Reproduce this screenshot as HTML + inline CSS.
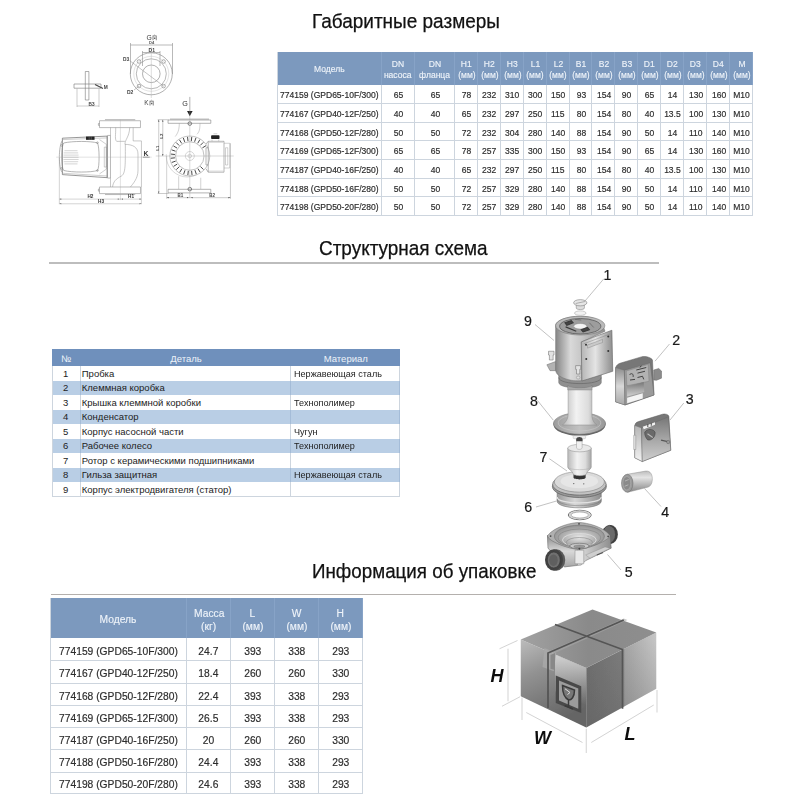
<!DOCTYPE html>
<html lang="ru"><head><meta charset="utf-8"><title>Spec</title><style>
html,body{margin:0;padding:0;background:#fff;}
body{width:800px;height:800px;overflow:hidden;position:relative;font-family:"Liberation Sans",sans-serif;color:#222;}
.abs{position:absolute;}
.ttl{position:absolute;font-size:19.7px;color:#111;white-space:nowrap;transform-origin:left top;transform:scaleX(.955);line-height:24px;-webkit-text-stroke:0.25px #111;}
.rule{position:absolute;background:#bdbdbd;}
.c{position:absolute;box-sizing:border-box;display:flex;align-items:center;justify-content:center;white-space:nowrap;overflow:visible;}
.c span{display:inline-block;}
.t1 .c{font-size:9.7px;padding-top:0px;-webkit-text-stroke:0.2px #333;color:#2a2a2a;}
.t1 .h{background:#7c99be;color:#eef3f9;flex-direction:column;line-height:11.6px;font-size:9.7px;padding-top:2px;-webkit-text-stroke:0.15px #eef3f9;background:none;}
.t1 .h small{font-size:9.7px;display:block;}
.t1 .l{justify-content:flex-start;padding-left:3px;}
.t3 .c{font-size:11.7px;color:#2a2a2a;-webkit-text-stroke:0.2px #333;padding-top:1px;}
.t3 .h{background:#7c99be;color:#eef3f9;flex-direction:column;line-height:13.5px;padding-top:2.5px;font-size:11.7px;-webkit-text-stroke:0.15px #eef3f9;background:none;}
.t3 .h small{font-size:11.7px;display:block;}
.t3 .l{justify-content:flex-start;padding-left:9px;}
.t2 .c{font-size:9.5px;color:#222;border-right:1px solid #cdd5de;}
.t2 .h{background:none;color:#eef3f9;border-right:none;padding-top:1.5px;}
.t2 .alt{border-right-color:#a4bcd8;}
.t2 .m span{transform:scaleX(.955);transform-origin:left center;}
.t2 .l{justify-content:flex-start;padding-left:1.2px;}
.t2 .m{padding-left:2.6px !important;}

.sx{transform:scaleX(.88);}
.sxl{transform:scaleX(.88);transform-origin:left center;}
</style></head><body>
<div class="ttl" style="left:312px;top:9px;transform:scaleX(.964)">Габаритные размеры</div>
<div class="ttl" style="left:319px;top:236px;transform:scaleX(.962)">Структурная схема</div>
<div class="ttl" style="left:312px;top:559px;transform:scaleX(.954)">Информация об упаковке</div>
<div class="rule" style="left:49px;top:262px;width:610px;height:2px;"></div>
<div class="rule" style="left:51px;top:593.5px;width:625px;height:1.5px;background:#b4b0ad;"></div>
<div class="t1">
<div class="abs" style="left:276.8px;top:51.6px;width:476.49999999999994px;height:33.4px;background:#7c99be;"></div>
<div class="abs" style="left:276.8px;top:51.6px;width:1px;height:164.4px;background:#cdd5de;"></div>
<div class="c h" style="left:276.8px;top:51.6px;width:104.70px;height:33.40px;"><span class="sx">Модель</span></div>
<div class="c h" style="left:381.5px;top:51.6px;width:33.30px;height:33.40px;"><span class="sx">DN</span><span class="sx" >насоса</span></div>
<div class="c h" style="left:414.8px;top:51.6px;width:40.20px;height:33.40px;"><span class="sx">DN</span><span class="sx" >фланца</span></div>
<div class="c h" style="left:455px;top:51.6px;width:23.00px;height:33.40px;"><span class="sx">H1</span><small class="sx">(мм)</small></div>
<div class="c h" style="left:478px;top:51.6px;width:23.00px;height:33.40px;"><span class="sx">H2</span><small class="sx">(мм)</small></div>
<div class="c h" style="left:501px;top:51.6px;width:22.80px;height:33.40px;"><span class="sx">H3</span><small class="sx">(мм)</small></div>
<div class="c h" style="left:523.8px;top:51.6px;width:22.70px;height:33.40px;"><span class="sx">L1</span><small class="sx">(мм)</small></div>
<div class="c h" style="left:546.5px;top:51.6px;width:23.00px;height:33.40px;"><span class="sx">L2</span><small class="sx">(мм)</small></div>
<div class="c h" style="left:569.5px;top:51.6px;width:22.80px;height:33.40px;"><span class="sx">B1</span><small class="sx">(мм)</small></div>
<div class="c h" style="left:592.3px;top:51.6px;width:22.70px;height:33.40px;"><span class="sx">B2</span><small class="sx">(мм)</small></div>
<div class="c h" style="left:615px;top:51.6px;width:23.30px;height:33.40px;"><span class="sx">B3</span><small class="sx">(мм)</small></div>
<div class="c h" style="left:638.3px;top:51.6px;width:22.70px;height:33.40px;"><span class="sx">D1</span><small class="sx">(мм)</small></div>
<div class="c h" style="left:661px;top:51.6px;width:23.20px;height:33.40px;"><span class="sx">D2</span><small class="sx">(мм)</small></div>
<div class="c h" style="left:684.2px;top:51.6px;width:22.90px;height:33.40px;"><span class="sx">D3</span><small class="sx">(мм)</small></div>
<div class="c h" style="left:707.1px;top:51.6px;width:23.10px;height:33.40px;"><span class="sx">D4</span><small class="sx">(мм)</small></div>
<div class="c h" style="left:730.2px;top:51.6px;width:23.10px;height:33.40px;"><span class="sx">M</span><small class="sx">(мм)</small></div>
<div class="c l" style="left:276.8px;top:85px;width:104.70px;height:19px;"><span class="sxl">774159 (GPD65-10F/300)</span></div>
<div class="c" style="left:381.5px;top:85px;width:33.30px;height:19px;"><span class="sx">65</span></div>
<div class="c" style="left:414.8px;top:85px;width:40.20px;height:19px;"><span class="sx">65</span></div>
<div class="c" style="left:455px;top:85px;width:23.00px;height:19px;"><span class="sx">78</span></div>
<div class="c" style="left:478px;top:85px;width:23.00px;height:19px;"><span class="sx">232</span></div>
<div class="c" style="left:501px;top:85px;width:22.80px;height:19px;"><span class="sx">310</span></div>
<div class="c" style="left:523.8px;top:85px;width:22.70px;height:19px;"><span class="sx">300</span></div>
<div class="c" style="left:546.5px;top:85px;width:23.00px;height:19px;"><span class="sx">150</span></div>
<div class="c" style="left:569.5px;top:85px;width:22.80px;height:19px;"><span class="sx">93</span></div>
<div class="c" style="left:592.3px;top:85px;width:22.70px;height:19px;"><span class="sx">154</span></div>
<div class="c" style="left:615px;top:85px;width:23.30px;height:19px;"><span class="sx">90</span></div>
<div class="c" style="left:638.3px;top:85px;width:22.70px;height:19px;"><span class="sx">65</span></div>
<div class="c" style="left:661px;top:85px;width:23.20px;height:19px;"><span class="sx">14</span></div>
<div class="c" style="left:684.2px;top:85px;width:22.90px;height:19px;"><span class="sx">130</span></div>
<div class="c" style="left:707.1px;top:85px;width:23.10px;height:19px;"><span class="sx">160</span></div>
<div class="c" style="left:730.2px;top:85px;width:23.10px;height:19px;"><span class="sx">M10</span></div>
<div class="c l" style="left:276.8px;top:104px;width:104.70px;height:19px;"><span class="sxl">774167 (GPD40-12F/250)</span></div>
<div class="c" style="left:381.5px;top:104px;width:33.30px;height:19px;"><span class="sx">40</span></div>
<div class="c" style="left:414.8px;top:104px;width:40.20px;height:19px;"><span class="sx">40</span></div>
<div class="c" style="left:455px;top:104px;width:23.00px;height:19px;"><span class="sx">65</span></div>
<div class="c" style="left:478px;top:104px;width:23.00px;height:19px;"><span class="sx">232</span></div>
<div class="c" style="left:501px;top:104px;width:22.80px;height:19px;"><span class="sx">297</span></div>
<div class="c" style="left:523.8px;top:104px;width:22.70px;height:19px;"><span class="sx">250</span></div>
<div class="c" style="left:546.5px;top:104px;width:23.00px;height:19px;"><span class="sx">115</span></div>
<div class="c" style="left:569.5px;top:104px;width:22.80px;height:19px;"><span class="sx">80</span></div>
<div class="c" style="left:592.3px;top:104px;width:22.70px;height:19px;"><span class="sx">154</span></div>
<div class="c" style="left:615px;top:104px;width:23.30px;height:19px;"><span class="sx">80</span></div>
<div class="c" style="left:638.3px;top:104px;width:22.70px;height:19px;"><span class="sx">40</span></div>
<div class="c" style="left:661px;top:104px;width:23.20px;height:19px;"><span class="sx">13.5</span></div>
<div class="c" style="left:684.2px;top:104px;width:22.90px;height:19px;"><span class="sx">100</span></div>
<div class="c" style="left:707.1px;top:104px;width:23.10px;height:19px;"><span class="sx">130</span></div>
<div class="c" style="left:730.2px;top:104px;width:23.10px;height:19px;"><span class="sx">M10</span></div>
<div class="c l" style="left:276.8px;top:123px;width:104.70px;height:18px;"><span class="sxl">774168 (GPD50-12F/280)</span></div>
<div class="c" style="left:381.5px;top:123px;width:33.30px;height:18px;"><span class="sx">50</span></div>
<div class="c" style="left:414.8px;top:123px;width:40.20px;height:18px;"><span class="sx">50</span></div>
<div class="c" style="left:455px;top:123px;width:23.00px;height:18px;"><span class="sx">72</span></div>
<div class="c" style="left:478px;top:123px;width:23.00px;height:18px;"><span class="sx">232</span></div>
<div class="c" style="left:501px;top:123px;width:22.80px;height:18px;"><span class="sx">304</span></div>
<div class="c" style="left:523.8px;top:123px;width:22.70px;height:18px;"><span class="sx">280</span></div>
<div class="c" style="left:546.5px;top:123px;width:23.00px;height:18px;"><span class="sx">140</span></div>
<div class="c" style="left:569.5px;top:123px;width:22.80px;height:18px;"><span class="sx">88</span></div>
<div class="c" style="left:592.3px;top:123px;width:22.70px;height:18px;"><span class="sx">154</span></div>
<div class="c" style="left:615px;top:123px;width:23.30px;height:18px;"><span class="sx">90</span></div>
<div class="c" style="left:638.3px;top:123px;width:22.70px;height:18px;"><span class="sx">50</span></div>
<div class="c" style="left:661px;top:123px;width:23.20px;height:18px;"><span class="sx">14</span></div>
<div class="c" style="left:684.2px;top:123px;width:22.90px;height:18px;"><span class="sx">110</span></div>
<div class="c" style="left:707.1px;top:123px;width:23.10px;height:18px;"><span class="sx">140</span></div>
<div class="c" style="left:730.2px;top:123px;width:23.10px;height:18px;"><span class="sx">M10</span></div>
<div class="c l" style="left:276.8px;top:141px;width:104.70px;height:19px;"><span class="sxl">774169 (GPD65-12F/300)</span></div>
<div class="c" style="left:381.5px;top:141px;width:33.30px;height:19px;"><span class="sx">65</span></div>
<div class="c" style="left:414.8px;top:141px;width:40.20px;height:19px;"><span class="sx">65</span></div>
<div class="c" style="left:455px;top:141px;width:23.00px;height:19px;"><span class="sx">78</span></div>
<div class="c" style="left:478px;top:141px;width:23.00px;height:19px;"><span class="sx">257</span></div>
<div class="c" style="left:501px;top:141px;width:22.80px;height:19px;"><span class="sx">335</span></div>
<div class="c" style="left:523.8px;top:141px;width:22.70px;height:19px;"><span class="sx">300</span></div>
<div class="c" style="left:546.5px;top:141px;width:23.00px;height:19px;"><span class="sx">150</span></div>
<div class="c" style="left:569.5px;top:141px;width:22.80px;height:19px;"><span class="sx">93</span></div>
<div class="c" style="left:592.3px;top:141px;width:22.70px;height:19px;"><span class="sx">154</span></div>
<div class="c" style="left:615px;top:141px;width:23.30px;height:19px;"><span class="sx">90</span></div>
<div class="c" style="left:638.3px;top:141px;width:22.70px;height:19px;"><span class="sx">65</span></div>
<div class="c" style="left:661px;top:141px;width:23.20px;height:19px;"><span class="sx">14</span></div>
<div class="c" style="left:684.2px;top:141px;width:22.90px;height:19px;"><span class="sx">130</span></div>
<div class="c" style="left:707.1px;top:141px;width:23.10px;height:19px;"><span class="sx">160</span></div>
<div class="c" style="left:730.2px;top:141px;width:23.10px;height:19px;"><span class="sx">M10</span></div>
<div class="c l" style="left:276.8px;top:160px;width:104.70px;height:19px;"><span class="sxl">774187 (GPD40-16F/250)</span></div>
<div class="c" style="left:381.5px;top:160px;width:33.30px;height:19px;"><span class="sx">40</span></div>
<div class="c" style="left:414.8px;top:160px;width:40.20px;height:19px;"><span class="sx">40</span></div>
<div class="c" style="left:455px;top:160px;width:23.00px;height:19px;"><span class="sx">65</span></div>
<div class="c" style="left:478px;top:160px;width:23.00px;height:19px;"><span class="sx">232</span></div>
<div class="c" style="left:501px;top:160px;width:22.80px;height:19px;"><span class="sx">297</span></div>
<div class="c" style="left:523.8px;top:160px;width:22.70px;height:19px;"><span class="sx">250</span></div>
<div class="c" style="left:546.5px;top:160px;width:23.00px;height:19px;"><span class="sx">115</span></div>
<div class="c" style="left:569.5px;top:160px;width:22.80px;height:19px;"><span class="sx">80</span></div>
<div class="c" style="left:592.3px;top:160px;width:22.70px;height:19px;"><span class="sx">154</span></div>
<div class="c" style="left:615px;top:160px;width:23.30px;height:19px;"><span class="sx">80</span></div>
<div class="c" style="left:638.3px;top:160px;width:22.70px;height:19px;"><span class="sx">40</span></div>
<div class="c" style="left:661px;top:160px;width:23.20px;height:19px;"><span class="sx">13.5</span></div>
<div class="c" style="left:684.2px;top:160px;width:22.90px;height:19px;"><span class="sx">100</span></div>
<div class="c" style="left:707.1px;top:160px;width:23.10px;height:19px;"><span class="sx">130</span></div>
<div class="c" style="left:730.2px;top:160px;width:23.10px;height:19px;"><span class="sx">M10</span></div>
<div class="c l" style="left:276.8px;top:179px;width:104.70px;height:18px;"><span class="sxl">774188 (GPD50-16F/280)</span></div>
<div class="c" style="left:381.5px;top:179px;width:33.30px;height:18px;"><span class="sx">50</span></div>
<div class="c" style="left:414.8px;top:179px;width:40.20px;height:18px;"><span class="sx">50</span></div>
<div class="c" style="left:455px;top:179px;width:23.00px;height:18px;"><span class="sx">72</span></div>
<div class="c" style="left:478px;top:179px;width:23.00px;height:18px;"><span class="sx">257</span></div>
<div class="c" style="left:501px;top:179px;width:22.80px;height:18px;"><span class="sx">329</span></div>
<div class="c" style="left:523.8px;top:179px;width:22.70px;height:18px;"><span class="sx">280</span></div>
<div class="c" style="left:546.5px;top:179px;width:23.00px;height:18px;"><span class="sx">140</span></div>
<div class="c" style="left:569.5px;top:179px;width:22.80px;height:18px;"><span class="sx">88</span></div>
<div class="c" style="left:592.3px;top:179px;width:22.70px;height:18px;"><span class="sx">154</span></div>
<div class="c" style="left:615px;top:179px;width:23.30px;height:18px;"><span class="sx">90</span></div>
<div class="c" style="left:638.3px;top:179px;width:22.70px;height:18px;"><span class="sx">50</span></div>
<div class="c" style="left:661px;top:179px;width:23.20px;height:18px;"><span class="sx">14</span></div>
<div class="c" style="left:684.2px;top:179px;width:22.90px;height:18px;"><span class="sx">110</span></div>
<div class="c" style="left:707.1px;top:179px;width:23.10px;height:18px;"><span class="sx">140</span></div>
<div class="c" style="left:730.2px;top:179px;width:23.10px;height:18px;"><span class="sx">M10</span></div>
<div class="c l" style="left:276.8px;top:197px;width:104.70px;height:19px;"><span class="sxl">774198 (GPD50-20F/280)</span></div>
<div class="c" style="left:381.5px;top:197px;width:33.30px;height:19px;"><span class="sx">50</span></div>
<div class="c" style="left:414.8px;top:197px;width:40.20px;height:19px;"><span class="sx">50</span></div>
<div class="c" style="left:455px;top:197px;width:23.00px;height:19px;"><span class="sx">72</span></div>
<div class="c" style="left:478px;top:197px;width:23.00px;height:19px;"><span class="sx">257</span></div>
<div class="c" style="left:501px;top:197px;width:22.80px;height:19px;"><span class="sx">329</span></div>
<div class="c" style="left:523.8px;top:197px;width:22.70px;height:19px;"><span class="sx">280</span></div>
<div class="c" style="left:546.5px;top:197px;width:23.00px;height:19px;"><span class="sx">140</span></div>
<div class="c" style="left:569.5px;top:197px;width:22.80px;height:19px;"><span class="sx">88</span></div>
<div class="c" style="left:592.3px;top:197px;width:22.70px;height:19px;"><span class="sx">154</span></div>
<div class="c" style="left:615px;top:197px;width:23.30px;height:19px;"><span class="sx">90</span></div>
<div class="c" style="left:638.3px;top:197px;width:22.70px;height:19px;"><span class="sx">50</span></div>
<div class="c" style="left:661px;top:197px;width:23.20px;height:19px;"><span class="sx">14</span></div>
<div class="c" style="left:684.2px;top:197px;width:22.90px;height:19px;"><span class="sx">110</span></div>
<div class="c" style="left:707.1px;top:197px;width:23.10px;height:19px;"><span class="sx">140</span></div>
<div class="c" style="left:730.2px;top:197px;width:23.10px;height:19px;"><span class="sx">M10</span></div>
<div class="abs" style="left:380.50px;top:51.6px;width:1px;height:33.4px;background:#87a3c7;"></div>
<div class="abs" style="left:380.50px;top:85px;width:1px;height:131px;background:#cdd5de;"></div>
<div class="abs" style="left:413.80px;top:51.6px;width:1px;height:33.4px;background:#87a3c7;"></div>
<div class="abs" style="left:413.80px;top:85px;width:1px;height:131px;background:#cdd5de;"></div>
<div class="abs" style="left:454.00px;top:51.6px;width:1px;height:33.4px;background:#87a3c7;"></div>
<div class="abs" style="left:454.00px;top:85px;width:1px;height:131px;background:#cdd5de;"></div>
<div class="abs" style="left:477.00px;top:51.6px;width:1px;height:33.4px;background:#87a3c7;"></div>
<div class="abs" style="left:477.00px;top:85px;width:1px;height:131px;background:#cdd5de;"></div>
<div class="abs" style="left:500.00px;top:51.6px;width:1px;height:33.4px;background:#87a3c7;"></div>
<div class="abs" style="left:500.00px;top:85px;width:1px;height:131px;background:#cdd5de;"></div>
<div class="abs" style="left:522.80px;top:51.6px;width:1px;height:33.4px;background:#87a3c7;"></div>
<div class="abs" style="left:522.80px;top:85px;width:1px;height:131px;background:#cdd5de;"></div>
<div class="abs" style="left:545.50px;top:51.6px;width:1px;height:33.4px;background:#87a3c7;"></div>
<div class="abs" style="left:545.50px;top:85px;width:1px;height:131px;background:#cdd5de;"></div>
<div class="abs" style="left:568.50px;top:51.6px;width:1px;height:33.4px;background:#87a3c7;"></div>
<div class="abs" style="left:568.50px;top:85px;width:1px;height:131px;background:#cdd5de;"></div>
<div class="abs" style="left:591.30px;top:51.6px;width:1px;height:33.4px;background:#87a3c7;"></div>
<div class="abs" style="left:591.30px;top:85px;width:1px;height:131px;background:#cdd5de;"></div>
<div class="abs" style="left:614.00px;top:51.6px;width:1px;height:33.4px;background:#87a3c7;"></div>
<div class="abs" style="left:614.00px;top:85px;width:1px;height:131px;background:#cdd5de;"></div>
<div class="abs" style="left:637.30px;top:51.6px;width:1px;height:33.4px;background:#87a3c7;"></div>
<div class="abs" style="left:637.30px;top:85px;width:1px;height:131px;background:#cdd5de;"></div>
<div class="abs" style="left:660.00px;top:51.6px;width:1px;height:33.4px;background:#87a3c7;"></div>
<div class="abs" style="left:660.00px;top:85px;width:1px;height:131px;background:#cdd5de;"></div>
<div class="abs" style="left:683.20px;top:51.6px;width:1px;height:33.4px;background:#87a3c7;"></div>
<div class="abs" style="left:683.20px;top:85px;width:1px;height:131px;background:#cdd5de;"></div>
<div class="abs" style="left:706.10px;top:51.6px;width:1px;height:33.4px;background:#87a3c7;"></div>
<div class="abs" style="left:706.10px;top:85px;width:1px;height:131px;background:#cdd5de;"></div>
<div class="abs" style="left:729.20px;top:51.6px;width:1px;height:33.4px;background:#87a3c7;"></div>
<div class="abs" style="left:729.20px;top:85px;width:1px;height:131px;background:#cdd5de;"></div>
<div class="abs" style="left:752.30px;top:51.6px;width:1px;height:33.4px;background:#87a3c7;"></div>
<div class="abs" style="left:752.30px;top:85px;width:1px;height:131px;background:#cdd5de;"></div>
<div class="abs" style="left:276.8px;top:103px;width:476.50px;height:1px;background:#cdd5de;"></div>
<div class="abs" style="left:276.8px;top:122px;width:476.50px;height:1px;background:#cdd5de;"></div>
<div class="abs" style="left:276.8px;top:140px;width:476.50px;height:1px;background:#cdd5de;"></div>
<div class="abs" style="left:276.8px;top:159px;width:476.50px;height:1px;background:#cdd5de;"></div>
<div class="abs" style="left:276.8px;top:178px;width:476.50px;height:1px;background:#cdd5de;"></div>
<div class="abs" style="left:276.8px;top:196px;width:476.50px;height:1px;background:#cdd5de;"></div>
<div class="abs" style="left:276.8px;top:215px;width:476.50px;height:1px;background:#cdd5de;"></div>
</div>
<div class="t2">
<div class="abs" style="left:51.6px;top:349.2px;width:348.60px;height:16.80px;background:#6f90bc;"></div>
<div class="abs" style="left:51.6px;top:380.50px;width:348.60px;height:14.50px;background:#b9cee5;"></div>
<div class="abs" style="left:51.6px;top:409.50px;width:348.60px;height:14.50px;background:#b9cee5;"></div>
<div class="abs" style="left:51.6px;top:438.50px;width:348.60px;height:14.50px;background:#b9cee5;"></div>
<div class="abs" style="left:51.6px;top:467.50px;width:348.60px;height:14.50px;background:#b9cee5;"></div>
<div class="c h" style="left:51.6px;top:349.2px;width:29.00px;height:16.80px;"><span>№</span></div>
<div class="c h" style="left:80.6px;top:349.2px;width:210.80px;height:16.80px;"><span>Деталь</span></div>
<div class="c h" style="left:291.4px;top:349.2px;width:108.80px;height:16.80px;"><span>Материал</span></div>
<div class="c" style="left:51.6px;top:366.00px;width:29.00px;height:14.50px;"><span>1</span></div>
<div class="c l" style="left:80.6px;top:366.00px;width:210.80px;height:14.50px;"><span>Пробка</span></div>
<div class="c l m" style="left:291.4px;top:366.00px;width:108.80px;height:14.50px;"><span>Нержавеющая сталь</span></div>
<div class="c alt" style="left:51.6px;top:380.50px;width:29.00px;height:14.50px;"><span>2</span></div>
<div class="c l alt" style="left:80.6px;top:380.50px;width:210.80px;height:14.50px;"><span>Клеммная коробка</span></div>
<div class="c l m alt" style="left:291.4px;top:380.50px;width:108.80px;height:14.50px;"><span></span></div>
<div class="c" style="left:51.6px;top:395.00px;width:29.00px;height:14.50px;"><span>3</span></div>
<div class="c l" style="left:80.6px;top:395.00px;width:210.80px;height:14.50px;"><span>Крышка клеммной коробки</span></div>
<div class="c l m" style="left:291.4px;top:395.00px;width:108.80px;height:14.50px;"><span>Технополимер</span></div>
<div class="c alt" style="left:51.6px;top:409.50px;width:29.00px;height:14.50px;"><span>4</span></div>
<div class="c l alt" style="left:80.6px;top:409.50px;width:210.80px;height:14.50px;"><span>Конденсатор</span></div>
<div class="c l m alt" style="left:291.4px;top:409.50px;width:108.80px;height:14.50px;"><span></span></div>
<div class="c" style="left:51.6px;top:424.00px;width:29.00px;height:14.50px;"><span>5</span></div>
<div class="c l" style="left:80.6px;top:424.00px;width:210.80px;height:14.50px;"><span>Корпус насосной части</span></div>
<div class="c l m" style="left:291.4px;top:424.00px;width:108.80px;height:14.50px;"><span>Чугун</span></div>
<div class="c alt" style="left:51.6px;top:438.50px;width:29.00px;height:14.50px;"><span>6</span></div>
<div class="c l alt" style="left:80.6px;top:438.50px;width:210.80px;height:14.50px;"><span>Рабочее колесо</span></div>
<div class="c l m alt" style="left:291.4px;top:438.50px;width:108.80px;height:14.50px;"><span>Технополимер</span></div>
<div class="c" style="left:51.6px;top:453.00px;width:29.00px;height:14.50px;"><span>7</span></div>
<div class="c l" style="left:80.6px;top:453.00px;width:210.80px;height:14.50px;"><span>Ротор с керамическими подшипниками</span></div>
<div class="c l m" style="left:291.4px;top:453.00px;width:108.80px;height:14.50px;"><span></span></div>
<div class="c alt" style="left:51.6px;top:467.50px;width:29.00px;height:14.50px;"><span>8</span></div>
<div class="c l alt" style="left:80.6px;top:467.50px;width:210.80px;height:14.50px;"><span>Гильза защитная</span></div>
<div class="c l m alt" style="left:291.4px;top:467.50px;width:108.80px;height:14.50px;"><span>Нержавеющая сталь</span></div>
<div class="c" style="left:51.6px;top:482.00px;width:29.00px;height:14.50px;"><span>9</span></div>
<div class="c l" style="left:80.6px;top:482.00px;width:210.80px;height:14.50px;"><span>Корпус электродвигателя (статор)</span></div>
<div class="c l m" style="left:291.4px;top:482.00px;width:108.80px;height:14.50px;"><span></span></div>
<div class="abs" style="left:51.6px;top:366px;width:1px;height:130.5px;background:#cdd5de;"></div>
<div class="abs" style="left:51.6px;top:496px;width:348.60px;height:1px;background:#cdd5de;"></div>
</div>
<div class="t3">
<div class="abs" style="left:49.5px;top:597.8px;width:313.0px;height:40.200000000000045px;background:#7c99be;"></div>
<div class="abs" style="left:49.5px;top:597.8px;width:1px;height:196.45000000000005px;background:#cdd5de;"></div>
<div class="c h" style="left:49.5px;top:597.8px;width:137.30px;height:40.20px;"><span class="sx">Модель</span></div>
<div class="c h" style="left:186.8px;top:597.8px;width:44.00px;height:40.20px;"><span class="sx">Масса</span><small class="sx">(кг)</small></div>
<div class="c h" style="left:230.8px;top:597.8px;width:43.90px;height:40.20px;"><span class="sx">L</span><small class="sx">(мм)</small></div>
<div class="c h" style="left:274.7px;top:597.8px;width:44.00px;height:40.20px;"><span class="sx">W</span><small class="sx">(мм)</small></div>
<div class="c h" style="left:318.7px;top:597.8px;width:43.80px;height:40.20px;"><span class="sx">H</span><small class="sx">(мм)</small></div>
<div class="c l" style="left:49.5px;top:638.00px;width:137.30px;height:23.25px;"><span class="sxl">774159 (GPD65-10F/300)</span></div>
<div class="c" style="left:186.8px;top:638.00px;width:44.00px;height:23.25px;"><span class="sx">24.7</span></div>
<div class="c" style="left:230.8px;top:638.00px;width:43.90px;height:23.25px;"><span class="sx">393</span></div>
<div class="c" style="left:274.7px;top:638.00px;width:44.00px;height:23.25px;"><span class="sx">338</span></div>
<div class="c" style="left:318.7px;top:638.00px;width:43.80px;height:23.25px;"><span class="sx">293</span></div>
<div class="c l" style="left:49.5px;top:661.25px;width:137.30px;height:22.25px;"><span class="sxl">774167 (GPD40-12F/250)</span></div>
<div class="c" style="left:186.8px;top:661.25px;width:44.00px;height:22.25px;"><span class="sx">18.4</span></div>
<div class="c" style="left:230.8px;top:661.25px;width:43.90px;height:22.25px;"><span class="sx">260</span></div>
<div class="c" style="left:274.7px;top:661.25px;width:44.00px;height:22.25px;"><span class="sx">260</span></div>
<div class="c" style="left:318.7px;top:661.25px;width:43.80px;height:22.25px;"><span class="sx">330</span></div>
<div class="c l" style="left:49.5px;top:683.50px;width:137.30px;height:22.40px;"><span class="sxl">774168 (GPD50-12F/280)</span></div>
<div class="c" style="left:186.8px;top:683.50px;width:44.00px;height:22.40px;"><span class="sx">22.4</span></div>
<div class="c" style="left:230.8px;top:683.50px;width:43.90px;height:22.40px;"><span class="sx">393</span></div>
<div class="c" style="left:274.7px;top:683.50px;width:44.00px;height:22.40px;"><span class="sx">338</span></div>
<div class="c" style="left:318.7px;top:683.50px;width:43.80px;height:22.40px;"><span class="sx">293</span></div>
<div class="c l" style="left:49.5px;top:705.90px;width:137.30px;height:22.10px;"><span class="sxl">774169 (GPD65-12F/300)</span></div>
<div class="c" style="left:186.8px;top:705.90px;width:44.00px;height:22.10px;"><span class="sx">26.5</span></div>
<div class="c" style="left:230.8px;top:705.90px;width:43.90px;height:22.10px;"><span class="sx">393</span></div>
<div class="c" style="left:274.7px;top:705.90px;width:44.00px;height:22.10px;"><span class="sx">338</span></div>
<div class="c" style="left:318.7px;top:705.90px;width:43.80px;height:22.10px;"><span class="sx">293</span></div>
<div class="c l" style="left:49.5px;top:728.00px;width:137.30px;height:22.40px;"><span class="sxl">774187 (GPD40-16F/250)</span></div>
<div class="c" style="left:186.8px;top:728.00px;width:44.00px;height:22.40px;"><span class="sx">20</span></div>
<div class="c" style="left:230.8px;top:728.00px;width:43.90px;height:22.40px;"><span class="sx">260</span></div>
<div class="c" style="left:274.7px;top:728.00px;width:44.00px;height:22.40px;"><span class="sx">260</span></div>
<div class="c" style="left:318.7px;top:728.00px;width:43.80px;height:22.40px;"><span class="sx">330</span></div>
<div class="c l" style="left:49.5px;top:750.40px;width:137.30px;height:22.10px;"><span class="sxl">774188 (GPD50-16F/280)</span></div>
<div class="c" style="left:186.8px;top:750.40px;width:44.00px;height:22.10px;"><span class="sx">24.4</span></div>
<div class="c" style="left:230.8px;top:750.40px;width:43.90px;height:22.10px;"><span class="sx">393</span></div>
<div class="c" style="left:274.7px;top:750.40px;width:44.00px;height:22.10px;"><span class="sx">338</span></div>
<div class="c" style="left:318.7px;top:750.40px;width:43.80px;height:22.10px;"><span class="sx">293</span></div>
<div class="c l" style="left:49.5px;top:772.50px;width:137.30px;height:21.75px;"><span class="sxl">774198 (GPD50-20F/280)</span></div>
<div class="c" style="left:186.8px;top:772.50px;width:44.00px;height:21.75px;"><span class="sx">24.6</span></div>
<div class="c" style="left:230.8px;top:772.50px;width:43.90px;height:21.75px;"><span class="sx">393</span></div>
<div class="c" style="left:274.7px;top:772.50px;width:44.00px;height:21.75px;"><span class="sx">338</span></div>
<div class="c" style="left:318.7px;top:772.50px;width:43.80px;height:21.75px;"><span class="sx">293</span></div>
<div class="abs" style="left:185.80px;top:597.8px;width:1px;height:40.200000000000045px;background:#87a3c7;"></div>
<div class="abs" style="left:185.80px;top:638px;width:1px;height:156.25px;background:#cdd5de;"></div>
<div class="abs" style="left:229.80px;top:597.8px;width:1px;height:40.200000000000045px;background:#87a3c7;"></div>
<div class="abs" style="left:229.80px;top:638px;width:1px;height:156.25px;background:#cdd5de;"></div>
<div class="abs" style="left:273.70px;top:597.8px;width:1px;height:40.200000000000045px;background:#87a3c7;"></div>
<div class="abs" style="left:273.70px;top:638px;width:1px;height:156.25px;background:#cdd5de;"></div>
<div class="abs" style="left:317.70px;top:597.8px;width:1px;height:40.200000000000045px;background:#87a3c7;"></div>
<div class="abs" style="left:317.70px;top:638px;width:1px;height:156.25px;background:#cdd5de;"></div>
<div class="abs" style="left:361.50px;top:597.8px;width:1px;height:40.200000000000045px;background:#87a3c7;"></div>
<div class="abs" style="left:361.50px;top:638px;width:1px;height:156.25px;background:#cdd5de;"></div>
<div class="abs" style="left:49.5px;top:660.25px;width:313.00px;height:1px;background:#cdd5de;"></div>
<div class="abs" style="left:49.5px;top:682.50px;width:313.00px;height:1px;background:#cdd5de;"></div>
<div class="abs" style="left:49.5px;top:704.90px;width:313.00px;height:1px;background:#cdd5de;"></div>
<div class="abs" style="left:49.5px;top:727.00px;width:313.00px;height:1px;background:#cdd5de;"></div>
<div class="abs" style="left:49.5px;top:749.40px;width:313.00px;height:1px;background:#cdd5de;"></div>
<div class="abs" style="left:49.5px;top:771.50px;width:313.00px;height:1px;background:#cdd5de;"></div>
<div class="abs" style="left:49.5px;top:793.25px;width:313.00px;height:1px;background:#cdd5de;"></div>
</div>
<svg class="abs" style="left:0;top:0;" width="800" height="800" viewBox="0 0 800 800">
<defs>
<filter id="bl" x="-5%" y="-5%" width="110%" height="110%"><feGaussianBlur stdDeviation="0.35"/></filter>
<filter id="bl2" x="-5%" y="-5%" width="110%" height="110%"><feGaussianBlur stdDeviation="2"/></filter>
</defs>
<g id="tech" fill="none" stroke="#7c7c7c" stroke-width="0.6" filter="url(#bl)" font-family="Liberation Sans, sans-serif">
<!-- flange view -->
<circle cx="151.3" cy="73.8" r="21"/>
<circle cx="151.3" cy="73.8" r="15" stroke="#8a8a8a"/>
<circle cx="151.3" cy="73.8" r="8.8"/>
<circle cx="151.3" cy="73.8" r="17.5" stroke="#bbb" stroke-width="0.4"/>
<circle cx="139" cy="61.5" r="1.8"/><circle cx="163.6" cy="61.5" r="1.8"/><circle cx="139" cy="86.1" r="1.8"/><circle cx="163.6" cy="86.1" r="1.8"/>
<path d="M130.5 45H172.5M130.5 43V74M172.5 43V74M142.5 52.5H160M142.5 51V66M160 51V66" stroke="#8a8a8a"/>
<path d="M151.3 47V98" stroke="#aaa" stroke-width="0.4"/>
<path d="M129.5 60.5L163.6 86.1M134 90L139 86.1" stroke="#8a8a8a" stroke-width="0.5"/>
<!-- bolt cross -->
<path d="M85.3 71.5h3.6v28.5h-3.6zM74 84h27v4.2h-27z" stroke="#777"/>
<path d="M77 88.5V107M99 88.5V107M77 106H99" stroke="#9a9a9a" stroke-width="0.5"/>
<path d="M95 84.5L103 88.5" stroke="#444" stroke-width="1.1"/>
<g stroke="none" fill="#3a3a3a" font-weight="bold">
<text x="146.5" y="39.8" font-size="6.8" font-weight="normal">G</text>
<path d="M152.6 35.6h4v4.6h-0.8v-3.9h-2.4v3.9h-0.8zM154 37.5h1.3v1.6h-1.3zM154.3 34.6l0.6 0 -0.3 1z" fill="#666"/>
<text x="149" y="44" font-size="4" fill="#555">D4</text>
<text x="148.6" y="51.5" font-size="5" fill="#444">D1</text>
<text x="123" y="60.7" font-size="4.8" fill="#444">D3</text>
<text x="127" y="93.7" font-size="5" fill="#444">D2</text>
<text x="144.3" y="105.2" font-size="6.4" fill="#444" font-weight="normal">K</text>
<path d="M149.6 100.8h4v4.6h-0.8v-3.9h-2.4v3.9h-0.8zM151 102.7h1.3v1.6h-1.3zM151.3 99.8l0.6 0 -0.3 1z" fill="#666"/>
<text x="103.8" y="89" font-size="4.8" fill="#444">M</text>
<text x="88.6" y="105.6" font-size="4.7" fill="#444">B3</text>
<text x="182.3" y="105.8" font-size="7.2" fill="#333" font-weight="normal">G</text>
</g>
<path d="M189.8 97V112" stroke="#999" stroke-width="0.5"/>
<path d="M187 111h5.6l-2.8 5.2z" fill="#222" stroke="none"/>
</g>


<!-- side view: coords in zoomed space (x-50)*7.27,(y-110)*7.27 -->
<g transform="translate(50 110) scale(0.1375)" fill="none" stroke="#808080" stroke-width="4" filter="url(#bl2)" font-family="Liberation Sans, sans-serif">
<!-- flanges -->
<path d="M360 78H658V128H360ZM400 70H620M360 98H352V112H360"/>
<path d="M360 560H658V608H360ZM360 575H352V590H360M400 615H620" />
<!-- neck and body -->
<path d="M440 128V185M605 128V225H665V560M440 495V560M580 128C575 200 545 215 545 250C600 250 640 270 640 320V440C640 500 600 540 585 560M478 128C478 180 470 215 485 228H545M455 560C460 520 480 500 520 480C550 460 548 400 548 250" stroke="#8c8c8c" stroke-width="3.5"/>
<path d="M418 185H440V495H418Z"/>
<!-- motor -->
<path d="M90 205L415 190V492L90 470Z" stroke="#666" stroke-width="5"/>
<path d="M90 222C75 240 68 300 68 340C68 390 75 440 90 455" stroke="#777"/>
<path d="M100 240C160 225 300 225 345 240C360 260 362 420 345 440C300 455 160 455 100 440C80 420 80 262 100 240Z" stroke="#777"/>
<path d="M90 215L415 203M90 460L415 480M360 215L410 250V430L360 465" stroke="#888" stroke-width="3"/>
<path d="M395 270H410V415H395Z" stroke="#888" stroke-width="3"/>
<path d="M105 296H200M100 312H205M98 328H208M98 344H208M98 360H208M100 376H205M105 392H200" stroke="#999" stroke-width="3"/>
<circle cx="85" cy="258" r="6"/><circle cx="85" cy="425" r="6"/><circle cx="345" cy="238" r="6"/><circle cx="345" cy="440" r="6"/>
<rect x="262" y="193" width="62" height="24" fill="#222" stroke="none"/>
<path d="M285 193V217M300 193V217" stroke="#999" stroke-width="3"/>
<!-- center lines -->
<path d="M45 343H740M512 70V640" stroke="#aaa" stroke-width="2.5"/>
<!-- dims -->
<path d="M68 350V685M665 560V685M68 648H665M68 682H665M512 640V655" stroke="#999" stroke-width="3"/>
<path d="M68 648l14 -4v8zM665 648l-14 -4v8zM68 682l14 -4v8zM665 682l-14 -4v8zM505 648l-12 -4v8zM519 648l12 -4v8z" fill="#555" stroke="none"/>
<g stroke="none" fill="#333" font-weight="bold">
<text x="272" y="643" font-size="34">H2</text>
<text x="568" y="643" font-size="34">H1</text>
<text x="350" y="678" font-size="34">H3</text>
<text x="680" y="338" font-size="52" fill="#222" font-weight="normal" stroke="#222" stroke-width="1.5">K</text>
</g>
<path d="M675 343H725" stroke="#555" stroke-width="4"/>
</g>


<!-- front view -->
<g transform="translate(140 90) scale(0.15)" fill="none" stroke="#808080" stroke-width="4" filter="url(#bl2)" font-family="Liberation Sans, sans-serif">
<path d="M187 200H472V222H187ZM187 662H472V686H187ZM200 194H460" />
<path d="M262 222C262 270 250 290 235 310M400 222C400 260 395 280 380 295M258 575V660M405 585V660" stroke="#999" stroke-width="3"/>
<path d="M178 440V690" stroke="#999" stroke-width="3"/>
<circle cx="332" cy="440" r="133" stroke="#8a8a8a" stroke-width="3.5"/>
<circle cx="315" cy="440" r="140" stroke="#aaa" stroke-width="3" stroke-dasharray="300 580" stroke-dashoffset="-150"/>
<circle cx="332" cy="440" r="95" stroke="#8a8a8a" stroke-width="3.5"/>
<path d="M403 510L423 530M386 524L401 548M366 534L375 560M344 539L347 567M322 539L319 567M300 535L291 561M279 525L265 549M262 511L242 531M248 494L224 509M238 474L212 483M233 452L205 455M233 430L205 427M237 408L211 399M247 387L223 373M261 370L241 350M278 356L263 332M298 346L289 320M320 341L317 313M342 341L345 313M364 345L373 319M385 355L399 331M402 369L422 349M416 386L440 371" stroke="#333" stroke-width="6"/>
<circle cx="332" cy="440" r="30" stroke="#aaa" stroke-width="3"/><circle cx="332" cy="440" r="12" stroke="#aaa" stroke-width="3"/>
<circle cx="332" cy="224" r="12" stroke="#555" stroke-width="5"/><circle cx="332" cy="661" r="12" stroke="#555" stroke-width="5"/>
<!-- motor -->
<path d="M455 342H560V548H455ZM440 360L455 342M440 525L455 548M455 385H440V500H455" stroke="#888"/>
<path d="M560 355H598V520H560M570 385H585V500H570Z" stroke="#999" stroke-width="3"/>
<path d="M460 350H555M460 540H555" stroke="#aaa" stroke-width="2.5"/>
<rect x="474" y="302" width="56" height="24" rx="5" fill="#222" stroke="none"/>
<path d="M480 330V342M525 330V342M490 292H515" stroke="#999" stroke-width="3"/>
<!-- centerlines -->
<path d="M332 45V720M105 440H625" stroke="#999" stroke-width="2.5"/>
<!-- dims -->
<path d="M125 198V692M152 198V440M118 198H190M118 690H190M178 718H603M603 355V725M178 690V725" stroke="#8a8a8a" stroke-width="3"/>
<path d="M125 198l-4 14h8zM125 690l-4 -14h8zM152 198l-4 14h8zM152 440l-4 -14h8zM178 718l14 -4v8zM603 718l-14 -4v8zM325 718l-12 -4v8zM339 718l12 -4v8z" fill="#444" stroke="none"/>
<g stroke="none" fill="#444" font-weight="bold">
<text x="250" y="716" font-size="30">B1</text>
<text x="462" y="716" font-size="30">B2</text>
<text transform="translate(156 325) rotate(-90)" font-size="29">L2</text>
<text transform="translate(129 405) rotate(-90)" font-size="29">L1</text>
</g>
</g>
</svg>
<svg class="abs" style="left:0;top:0;" width="800" height="800" viewBox="0 0 800 800">
<defs>
<filter id="b3" x="-5%" y="-5%" width="110%" height="110%"><feGaussianBlur stdDeviation="0.45"/></filter>
<linearGradient id="gCyl" x1="0" x2="1" y1="0" y2="0"><stop offset="0" stop-color="#858585"/><stop offset="0.3" stop-color="#d9d9d9"/><stop offset="0.55" stop-color="#c4c4c4"/><stop offset="1" stop-color="#8f8f8f"/></linearGradient>
<linearGradient id="gPlate" x1="0" x2="1" y1="0" y2="0"><stop offset="0" stop-color="#b5b5b5"/><stop offset="0.45" stop-color="#e4e4e4"/><stop offset="1" stop-color="#8d8d8d"/></linearGradient>
<linearGradient id="gTube" x1="0" x2="1" y1="0" y2="0"><stop offset="0" stop-color="#b9b9b9"/><stop offset="0.4" stop-color="#f2f2f2"/><stop offset="0.75" stop-color="#dcdcdc"/><stop offset="1" stop-color="#a5a5a5"/></linearGradient>
<linearGradient id="gFl" x1="0" x2="1" y1="0" y2="0"><stop offset="0" stop-color="#9c9c9c"/><stop offset="0.5" stop-color="#c2c2c2"/><stop offset="1" stop-color="#989898"/></linearGradient>
<linearGradient id="gImp" x1="0" x2="1" y1="0" y2="0"><stop offset="0" stop-color="#9a9a9a"/><stop offset="0.4" stop-color="#d6d6d6"/><stop offset="1" stop-color="#8c8c8c"/></linearGradient>
<linearGradient id="gV" x1="0" x2="0" y1="0" y2="1"><stop offset="0" stop-color="#8c8c8c"/><stop offset="0.5" stop-color="#d8d8d8"/><stop offset="1" stop-color="#a8a8a8"/></linearGradient>
<linearGradient id="gV2" x1="0" x2="0" y1="0" y2="1"><stop offset="0" stop-color="#777"/><stop offset="0.5" stop-color="#a6a6a6"/><stop offset="1" stop-color="#cfcfcf"/></linearGradient>
<linearGradient id="gV3" x1="0" x2="0" y1="0" y2="1"><stop offset="0" stop-color="#b5b5b5"/><stop offset="1" stop-color="#f2f2f2"/></linearGradient>
<linearGradient id="gCap" x1="0" x2="0" y1="0" y2="1"><stop offset="0" stop-color="#bdbdbd"/><stop offset="0.3" stop-color="#e4e4e4"/><stop offset="1" stop-color="#858585"/></linearGradient>
<radialGradient id="gBowl" cx="0.5" cy="0.55" r="0.6"><stop offset="0" stop-color="#e8e8e8"/><stop offset="0.5" stop-color="#b5b5b5"/><stop offset="1" stop-color="#8a8a8a"/></radialGradient>
</defs>
<g filter="url(#b3)" font-family="Liberation Sans, sans-serif">
<!-- leaders -->
<g stroke="#a8a8a8" stroke-width="0.7" fill="none">
<path d="M603.8 278.8L585 301"/><path d="M535 324.5L554 340.5"/><path d="M669.5 344L655 361.2"/><path d="M683.8 403L670 420"/>
<path d="M537.5 400.5L553.3 420.2"/><path d="M549.5 458.8L567 471"/><path d="M536 507L556.5 501"/><path d="M661 506.5L644.5 488.5"/><path d="M621 570L607.5 554.5"/>
</g>
<!-- labels -->
<g fill="#1a1a1a" font-size="14.2" stroke="#1a1a1a" stroke-width="0.2">
<text x="603.6" y="279.5">1</text><text x="524.1" y="326.3">9</text><text x="672.2" y="344.9">2</text><text x="685.8" y="403.5">3</text>
<text x="530" y="406">8</text><text x="539.5" y="461.5">7</text><text x="524.3" y="512.3">6</text><text x="661.3" y="517">4</text><text x="624.8" y="576.8">5</text>
</g>

<!-- sleeve 8 -->
<g transform="translate(540 370) scale(0.125)">
<ellipse cx="316" cy="438" rx="208" ry="88" fill="#666"/>
<ellipse cx="316" cy="428" rx="208" ry="86" fill="url(#gFl)" stroke="#6a6a6a" stroke-width="4"/>
<ellipse cx="316" cy="422" rx="170" ry="66" fill="none" stroke="#c9c9c9" stroke-width="5"/>
<path d="M225 120V350C225 400 200 420 180 440H455C430 420 415 400 415 350V120Z" fill="url(#gTube)" stroke="#8a8a8a" stroke-width="4"/>
<path d="M265 525H365V545C365 555 265 555 265 545Z" fill="#eee" stroke="#aaa" stroke-width="3"/>
</g>

<!-- housing 9 + plug 1 -->
<g transform="translate(540 290) scale(0.125)">
<!-- bottom rings -->
<path d="M150 660V740C150 800 490 800 490 740V660Z" fill="#8f8f8f" stroke="#666" stroke-width="4"/><path d="M150 700C150 765 490 765 490 700" fill="none" stroke="#6a6a6a" stroke-width="6"/>
<path d="M222 760C222 790 415 790 415 760V800H222Z" fill="#aaa" stroke="#777" stroke-width="3"/>
<!-- foot -->
<path d="M55 598L125 572V645L80 645Z" fill="#b2b2b2" stroke="#6a6a6a" stroke-width="4"/>
<!-- cylinder body -->
<path d="M125 285V640C125 700 250 735 335 725V415L520 330C500 240 420 210 322 210C215 210 125 245 125 285Z" fill="url(#gCyl)" stroke="#6e6e6e" stroke-width="4"/>
<!-- plate -->
<path d="M330 415L575 322L582 650L335 728Z" fill="url(#gPlate)" stroke="#666" stroke-width="5"/>
<path d="M350 430L560 352" stroke="#888" stroke-width="4" fill="none"/>
<path d="M380 440L500 395L500 420L380 465Z" fill="#c9c9c9" stroke="#777" stroke-width="3"/>
<circle cx="368" cy="438" r="8" fill="#333"/><circle cx="546" cy="372" r="8" fill="#333"/><circle cx="546" cy="488" r="8" fill="#333"/><circle cx="370" cy="552" r="8" fill="#333"/>
<!-- top face -->
<ellipse cx="322" cy="285" rx="197" ry="75" fill="#b9b9b9" stroke="#6a6a6a" stroke-width="4"/>
<ellipse cx="322" cy="290" rx="165" ry="62" fill="#9d9d9d" stroke="#555" stroke-width="6"/>
<ellipse cx="322" cy="290" rx="52" ry="22" fill="#f4f4f4" stroke="#777" stroke-width="3"/>
<path d="M200 262L250 245L265 262L215 282ZM330 318L380 300L395 318L345 335ZM205 295L290 330" stroke="#3a3a3a" stroke-width="9" fill="#444"/>
<path d="M395 262L430 300M280 235L330 240" stroke="#666" stroke-width="6" fill="none"/>
<!-- bolts -->
<path d="M68 490H112V520H105V560H75V520H68Z" fill="#e2e2e2" stroke="#666" stroke-width="4"/>
<path d="M285 605H325V635H318V672H292V635H285Z" fill="#e2e2e2" stroke="#666" stroke-width="4"/>
<ellipse cx="305" cy="700" rx="14" ry="12" fill="#ddd" stroke="#777" stroke-width="3"/>
<!-- plug -->
<ellipse cx="322" cy="185" rx="46" ry="18" fill="#f2f2f2" stroke="#b0b0b0" stroke-width="5"/>
<path d="M290 110V145C290 160 355 160 355 145V110Z" fill="#ddd" stroke="#777" stroke-width="4"/>
<ellipse cx="322" cy="102" rx="53" ry="25" fill="#e6e6e6" stroke="#666" stroke-width="4"/>
<path d="M285 108L360 92" stroke="#888" stroke-width="5"/>
</g>

<!-- impeller 6, rotor 7, oring -->
<g transform="translate(540 440) scale(0.125)">
<!-- lower body -->
<path d="M137 420V490C137 560 490 560 490 490V420Z" fill="url(#gImp)" stroke="#666" stroke-width="4"/>
<path d="M137 455C137 520 490 520 490 455" fill="none" stroke="#e2e2e2" stroke-width="10"/>
<path d="M137 475C137 542 490 542 490 475" fill="none" stroke="#777" stroke-width="4"/>
<!-- rim -->
<ellipse cx="315" cy="372" rx="216" ry="88" fill="#999" stroke="#555" stroke-width="5"/>
<ellipse cx="315" cy="355" rx="214" ry="86" fill="#c2c2c2" stroke="#555" stroke-width="5"/>
<ellipse cx="315" cy="335" rx="200" ry="82" fill="#dadada" stroke="#777" stroke-width="4"/>
<ellipse cx="315" cy="330" rx="150" ry="56" fill="#e6e6e6"/>
<circle cx="270" cy="348" r="5" fill="#555"/><circle cx="350" cy="350" r="5" fill="#555"/>
<!-- rotor -->
<path d="M268 268C268 290 365 290 365 268V300C365 320 268 320 268 300Z" fill="#333"/>
<path d="M222 65V215C222 235 262 245 265 270C265 290 372 290 372 270C375 245 410 235 410 215V65Z" fill="url(#gTube)" stroke="#8a8a8a" stroke-width="4"/>
<ellipse cx="316" cy="65" rx="94" ry="30" fill="#e9e9e9" stroke="#8a8a8a" stroke-width="4"/>
<path d="M292 -10H337V60C337 80 292 80 292 60Z" fill="#f0f0f0" stroke="#999" stroke-width="4"/>
<path d="M290 -5C290 -30 340 -30 340 -5V10H290Z" fill="#444"/>
<path d="M222 215C222 245 410 245 410 215" fill="none" stroke="#aaa" stroke-width="4"/>
<!-- o-ring -->
<ellipse cx="318" cy="600" rx="92" ry="38" fill="none" stroke="#5e5e5e" stroke-width="7"/>
<ellipse cx="318" cy="600" rx="80" ry="30" fill="none" stroke="#d4d4d4" stroke-width="12"/>
<ellipse cx="318" cy="600" rx="70" ry="24" fill="none" stroke="#777" stroke-width="4"/>
</g>

<!-- pump housing 5 -->
<g transform="translate(535 505) scale(0.125)">
<!-- right port -->
<ellipse cx="605" cy="235" rx="58" ry="76" fill="#484848"/>
<ellipse cx="588" cy="235" rx="52" ry="70" fill="#6a6a6a"/><ellipse cx="596" cy="235" rx="54" ry="72" fill="none" stroke="#333" stroke-width="5"/>
<!-- body -->
<path d="M100 245L105 345L235 495L370 480L405 445L610 345L600 245L355 350Z" fill="url(#gPlate)" stroke="#666" stroke-width="4"/>
<path d="M100 245L340 350V480L235 495L105 345Z" fill="url(#gV)" stroke="#666" stroke-width="3"/>
<path d="M100 245C160 170 300 140 350 140C420 140 560 180 600 245C600 280 420 355 350 355C280 355 100 290 100 245Z" fill="#b0b0b0" stroke="#666" stroke-width="4"/>
<ellipse cx="355" cy="250" rx="200" ry="88" fill="url(#gBowl)" stroke="#6a6a6a" stroke-width="4"/>
<ellipse cx="355" cy="262" rx="170" ry="70" fill="none" stroke="#8a8a8a" stroke-width="6"/>
<ellipse cx="355" cy="280" rx="135" ry="52" fill="none" stroke="#dedede" stroke-width="7"/>
<ellipse cx="355" cy="300" rx="105" ry="40" fill="none" stroke="#8a8a8a" stroke-width="5"/>
<ellipse cx="355" cy="328" rx="78" ry="22" fill="#c9c9c9" stroke="#666" stroke-width="5"/>
<ellipse cx="355" cy="332" rx="45" ry="12" fill="#999" stroke="#666" stroke-width="3"/>
<circle cx="125" cy="248" r="7" fill="#444"/><circle cx="352" cy="150" r="7" fill="#444"/><circle cx="585" cy="250" r="7" fill="#444"/><circle cx="355" cy="350" r="8" fill="#444"/>
<path d="M320 362H390V470H320Z" fill="#e9e9e9" stroke="#888" stroke-width="4"/>
<path d="M405 400L560 335L600 345L440 425Z" fill="#cfcfcf" stroke="#8a8a8a" stroke-width="3"/>
<path d="M495 400L545 380" stroke="#555" stroke-width="9"/>
<!-- left port -->
<ellipse cx="170" cy="440" rx="72" ry="86" fill="#5a5a5a"/>
<ellipse cx="152" cy="440" rx="72" ry="86" fill="#424242"/>
<ellipse cx="150" cy="440" rx="52" ry="64" fill="#707070" stroke="#333" stroke-width="5"/>
<ellipse cx="148" cy="442" rx="34" ry="46" fill="#5e5e5e"/>
</g>

<!-- terminal box 2 -->
<g transform="translate(600 330) scale(0.125)">
<path d="M430 320L470 308L492 328V385L452 402L430 400Z" fill="#8a8a8a" stroke="#666" stroke-width="4"/>
<path d="M125 300C135 275 150 270 160 266L330 215C370 205 415 225 420 240L432 520L200 600L125 575Z" fill="#777" stroke="#5e5e5e" stroke-width="4"/>
<path d="M125 300L195 322L200 600L125 575Z" fill="url(#gV)" stroke="#6a6a6a" stroke-width="3"/>
<path d="M195 322L402 262L432 520L200 600Z" fill="#9b9b9b" stroke="#666" stroke-width="4"/>
<path d="M210 328L385 276L392 410L215 446Z" fill="#b2b2b2" stroke="#777" stroke-width="3"/>
<path d="M290 320L370 300M300 345L360 330M235 360C250 340 270 350 265 375M300 380L340 370L350 395M240 400L280 395M320 300L330 285" stroke="#444" stroke-width="8" fill="none"/>
<path d="M215 452L350 416L354 496L217 532Z" fill="url(#gV2)"/>
<path d="M217 542L342 506V548L217 586Z" fill="#f4f4f4"/>
</g>

<!-- cover 3 and capacitor 4 -->
<g transform="translate(610 400) scale(0.15)">
<path d="M165 170C170 150 180 148 190 144L350 95C370 90 390 98 392 108L405 335L215 410L165 385Z" fill="#777" stroke="#5e5e5e" stroke-width="3.5"/>
<path d="M165 170L210 186L215 410L165 385Z" fill="url(#gV3)" stroke="#777" stroke-width="3"/>
<path d="M210 186L390 112L405 335L215 410Z" fill="url(#gV2)" stroke="#666" stroke-width="3"/>
<path d="M218 178L300 148V165L225 195Z" fill="#f2f2f2"/>
<path d="M252 160V180M275 152V172" stroke="#555" stroke-width="7"/>
<path d="M232 215C245 190 290 190 300 215C305 245 275 275 250 265C238 250 230 235 232 215Z" fill="#6a6a6a" stroke="#444" stroke-width="4"/>
<path d="M250 225L285 250" stroke="#bbb" stroke-width="7"/>
<path d="M340 268L385 278" stroke="#555" stroke-width="8"/><circle cx="388" cy="280" r="11" fill="#9a9a9a" stroke="#555" stroke-width="3"/>
<path d="M158 235H172V330H158Z" fill="#e2e2e2" stroke="#888" stroke-width="3"/>
<!-- capacitor -->
<path d="M115 495L238 474C270 470 285 500 282 535C280 560 268 578 250 582L118 615Z" fill="url(#gCap)" stroke="#8a8a8a" stroke-width="3"/>
<ellipse cx="115" cy="555" rx="38" ry="60" fill="#9a9a9a" stroke="#6e6e6e" stroke-width="4"/>
<ellipse cx="112" cy="555" rx="26" ry="45" fill="#8a8a8a" stroke="#bbb" stroke-width="3"/>
<path d="M100 540L125 530M98 575L122 565" stroke="#ccc" stroke-width="4"/>
</g>
</g>
</svg>
<svg class="abs" style="left:0;top:0;" width="800" height="800" viewBox="0 0 800 800">
<defs>
<filter id="b4" x="-5%" y="-5%" width="110%" height="110%"><feGaussianBlur stdDeviation="1.6"/></filter>
<linearGradient id="bxL" x1="0" y1="0" x2="0.35" y2="1"><stop offset="0" stop-color="#bcbcbc"/><stop offset="0.4" stop-color="#929292"/><stop offset="1" stop-color="#656565"/></linearGradient>
<linearGradient id="bxH" x1="0" y1="0" x2="0" y2="1"><stop offset="0" stop-color="#d6d6d6" stop-opacity="0.95"/><stop offset="1" stop-color="#b0b0b0" stop-opacity="0"/></linearGradient>
<linearGradient id="bxD" x1="0" y1="0" x2="0" y2="1"><stop offset="0" stop-color="#555" stop-opacity="0"/><stop offset="1" stop-color="#555" stop-opacity="0.35"/></linearGradient>
<linearGradient id="bxR" x1="0" y1="0" x2="1" y2="0"><stop offset="0" stop-color="#707070"/><stop offset="0.5" stop-color="#7e7e7e"/><stop offset="0.56" stop-color="#a8a8a8"/><stop offset="1" stop-color="#c8c8c8"/></linearGradient>
<linearGradient id="bxT" x1="0" y1="0" x2="1" y2="0"><stop offset="0" stop-color="#a2a2a2"/><stop offset="0.5" stop-color="#8a8a8a"/><stop offset="1" stop-color="#8e8e8e"/></linearGradient>
</defs>
<g transform="translate(480 595) scale(0.25)" filter="url(#b4)" font-family="Liberation Sans, sans-serif">
<!-- dimension lines -->
<g stroke="#c4c4c4" stroke-width="3" fill="none">
<path d="M112 215V425M78 215L150 182M88 445L160 407"/>
<path d="M185 470L410 590M168 410V500M425 535V632"/>
<path d="M445 590L695 440M708 380V470"/>
</g>
<!-- box -->
<path d="M163 178L425 292V530L163 405Z" fill="url(#bxL)"/>
<path d="M425 292L705 150V375L425 530Z" fill="url(#bxR)"/>
<path d="M163 178L450 58L705 150L425 292Z" fill="url(#bxT)"/>
<path d="M300 238L425 292V440L300 385Z" fill="url(#bxH)"/>
<path d="M425 292L705 150V375L425 530Z" fill="url(#bxD)"/>
<!-- tape -->
<path d="M258 212L305 232L295 305L250 288Z" fill="#a8a8a8" opacity="0.85"/>
<path d="M272 226L575 94L590 100L300 232Z" fill="#a6a6a6" opacity="0.6"/>
<!-- straps -->
<path d="M300 118L570 218V455M575 100L272 232V452" stroke="#555" stroke-width="7" fill="none"/>
<path d="M282 240L300 232V300L282 295Z" fill="#888"/>
<!-- fragile icon -->
<path d="M303 322L405 365V472L303 432Z" fill="#4a4a4a"/>
<path d="M316 342L393 374V455L316 422Z" fill="#9c9c9c"/>
<path d="M330 362L378 380C378 410 365 420 355 420C342 414 330 395 330 362ZM354 420V448M338 442L372 456" stroke="#3a3a3a" stroke-width="6" fill="#777"/>
<path d="M340 375L360 390L350 398" stroke="#ddd" stroke-width="4" fill="none"/>
<g fill="#111" font-weight="bold" font-style="italic" font-size="72">
<text x="42" y="347">H</text><text x="216" y="596">W</text><text x="578" y="579">L</text>
</g>
</g>
</svg>

</body></html>
